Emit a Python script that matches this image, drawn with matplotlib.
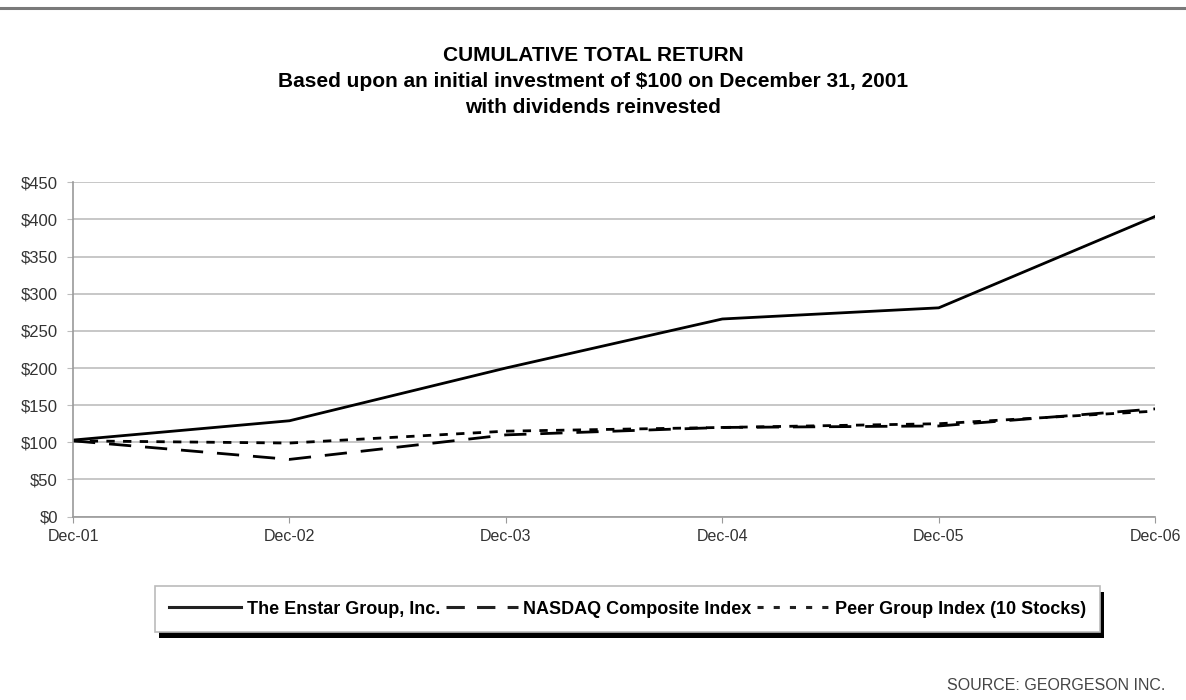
import matplotlib.pyplot as plt
import matplotlib.patheffects as pe
from matplotlib.lines import Line2D

plt.rcParams['font.family'] = ['Liberation Sans', 'DejaVu Sans']

years = ['Dec-01', 'Dec-02', 'Dec-03', 'Dec-04', 'Dec-05', 'Dec-06']
enstar = [103, 129, 200, 266, 281, 404]
nasdaq = [102, 77, 110, 120, 122, 145]
peer = [102, 99, 115, 120, 125, 142]
yticks = [0, 50, 100, 150, 200, 250, 300, 350, 400, 450]

fig = plt.figure(figsize=(11.86, 7), dpi=100)
ax = fig.add_axes([0.0616, 0.262, 0.9124, 0.4776])

x = list(range(len(years)))
ax.plot(x, enstar, color='black', lw=2.0, solid_joinstyle='miter', label='The Enstar Group, Inc.')
ax.plot(x, nasdaq, color='black', lw=2.0, dashes=(8, 5), label='NASDAQ Composite Index')
ax.plot(x, peer, color='black', lw=2.0, dashes=(3, 3), label='Peer Group Index (10 Stocks)')

ax.set_xlim(0, len(years) - 1)
ax.set_ylim(0, 450)
ax.set_yticks(yticks)
ax.set_yticklabels(['$%d' % v for v in yticks])
ax.set_xticks(x)
ax.set_xticklabels(years)
ax.grid(axis='y', color='#bdbdbd', lw=1.2)
ax.set_axisbelow(True)
for s in ['top', 'right']:
    ax.spines[s].set_visible(False)
for s in ['left', 'bottom']:
    ax.spines[s].set_color('#9a9a9a')
    ax.spines[s].set_linewidth(1.2)
ax.tick_params(axis='y', length=4, color='#bdbdbd', labelsize=12, labelcolor='#333333', pad=7)
ax.tick_params(axis='x', length=4, color='#9a9a9a', labelsize=11.5, labelcolor='#333333', pad=5)

# title block
fig.text(0.5, 0.921, 'CUMULATIVE TOTAL RETURN', ha='center', va='center', fontsize=15, fontweight='bold')
fig.text(0.5, 0.884, 'Based upon an initial investment of $100 on December 31, 2001',
         ha='center', va='center', fontsize=15, fontweight='bold')
fig.text(0.5, 0.847, 'with dividends reinvested', ha='center', va='center', fontsize=15, fontweight='bold')

# top rule
fig.add_artist(Line2D([0.0, 1.0], [0.988, 0.988], color='#7a7a7a', lw=2.2, transform=fig.transFigure))

# legend
handles = [
    Line2D([], [], color='#222222', lw=2.2),
    Line2D([], [], color='#222222', lw=2.2, dashes=(6, 4)),
    Line2D([], [], color='#222222', lw=2.2, dashes=(2, 3.3)),
]
labels = ['The Enstar Group, Inc.', 'NASDAQ Composite Index', 'Peer Group Index (10 Stocks)']
leg = fig.legend(handles, labels, loc='center', bbox_to_anchor=(0.529, 0.13), ncol=3,
                 frameon=True, fancybox=False, shadow=False, handlelength=4.0, handletextpad=0.3,
                 columnspacing=0.3, prop={'weight': 'bold', 'size': 13}, borderpad=0.8,
                 framealpha=1.0, facecolor='white')
frame = leg.get_frame()
frame.set_edgecolor('#bbbbbb')
frame.set_linewidth(1.2)
frame.set_path_effects([pe.SimplePatchShadow(offset=(3, -4), shadow_rgbFace='black', alpha=1.0), pe.Normal()])

fig.text(0.983, 0.021, 'SOURCE: GEORGESON INC.', ha='right', va='center', fontsize=11.5, color='#444444')

fig.savefig('out.png', dpi=100)
